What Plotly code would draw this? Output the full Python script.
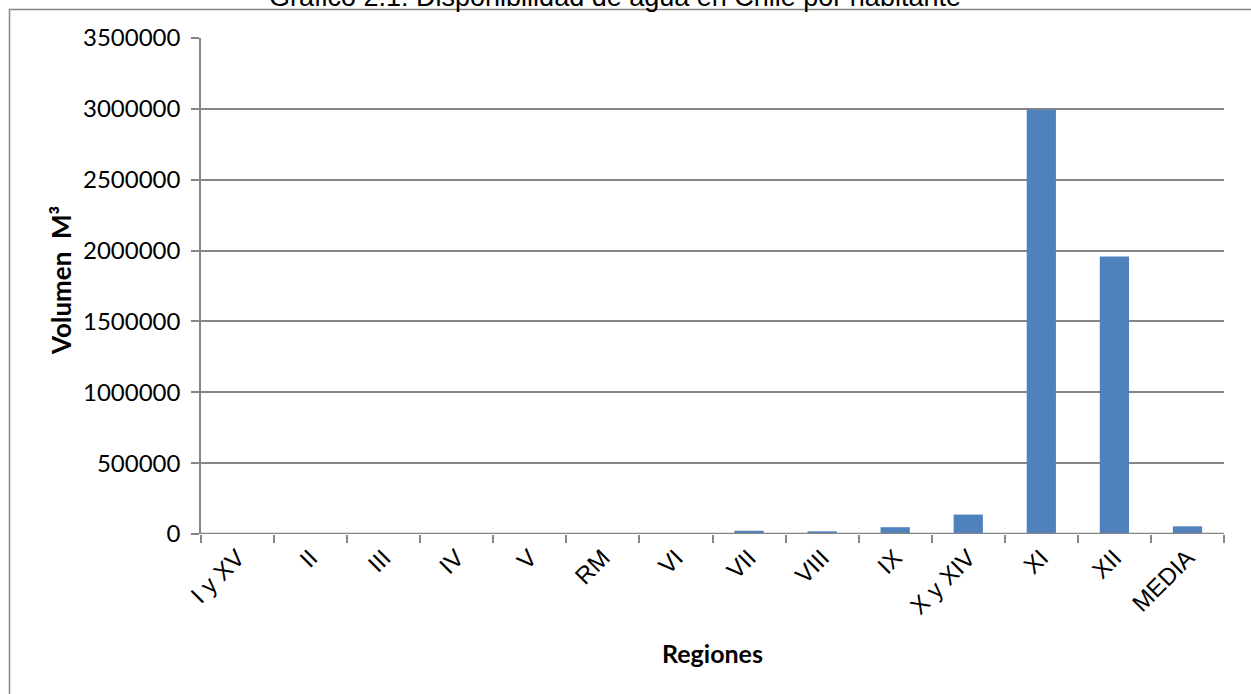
import plotly.graph_objects as go

# Disponibilidad de agua por habitante (m³) según región
regiones = ["I y XV", "II", "III", "IV", "V", "RM", "VI", "VII", "VIII",
            "IX", "X y XIV", "XI", "XII", "MEDIA"]
volumen = [850, 50, 210, 1020, 1000, 525, 6800, 23000, 19000,
           48000, 137000, 2993000, 1959000, 54000]

y_ticks = [0, 500000, 1000000, 1500000, 2000000, 2500000, 3000000, 3500000]

W, H = 1251, 694
L, R, T, B = 201, 27, 38, 160
pw, ph = W - L - R, H - T - B


def px_x(x):
    return (x - L) / pw


def px_y(y):
    return (H - B - y) / ph


grey = "#868686"

fig = go.Figure(
    go.Bar(
        x=regiones,
        y=volumen,
        width=0.4,
        marker=dict(color="#4F81BD", line=dict(width=0)),
    )
)

fig.update_layout(
    width=W,
    height=H,
    margin=dict(l=L, r=R, t=T, b=B, pad=0),
    paper_bgcolor="white",
    plot_bgcolor="white",
    showlegend=False,
    bargap=0.6,
)

fig.update_xaxes(
    type="category",
    tickangle=-45,
    tickfont=dict(family="Liberation Sans, Arial", size=24, color="black"),
    showline=False,
    ticks="outside",
    tickson="boundaries",
    ticklen=8,
    tickcolor=grey,
    tickwidth=1.5,
    showgrid=False,
    ticklabelstandoff=4,
)

fig.update_yaxes(
    range=[0, 3500000],
    tickvals=y_ticks,
    ticktext=[str(v) for v in y_ticks],
    tickfont=dict(family="Lato", size=24, color="black"),
    showline=True,
    linecolor=grey,
    linewidth=1.5,
    ticks="outside",
    ticklen=8,
    tickcolor=grey,
    tickwidth=1.5,
    showgrid=True,
    gridcolor=grey,
    gridwidth=1.5,
    zeroline=False,
    ticklabelstandoff=6,
)

# Línea base del eje de categorías, sobre las barras
fig.add_shape(
    type="line", xref="paper", yref="y",
    x0=px_x(200), x1=1, y0=0, y1=0,
    line=dict(color=grey, width=2.5), layer="above",
)

# Marco del gráfico
fig.add_shape(
    type="rect", xref="paper", yref="paper",
    x0=px_x(9.5), x1=px_x(1262), y0=px_y(9.5), y1=px_y(705),
    line=dict(color=grey, width=1.5), fillcolor="rgba(0,0,0,0)", layer="below",
)

annotations = [
    dict(text="Gráfico 2.1: Disponibilidad de agua en Chile por habitante",
         x=px_x(615), y=px_y(-3), xanchor="center", yanchor="middle",
         font=dict(family="Liberation Sans, Arial", size=27, color="black")),
    dict(text="<b>Regiones</b>",
         x=px_x(712), y=px_y(653), xanchor="center", yanchor="middle",
         font=dict(family="Lato", size=25, color="black")),
    dict(text="<b>Volumen  M³</b>",
         x=px_x(61), y=px_y(281), xanchor="center", yanchor="middle",
         textangle=-90,
         font=dict(family="Lato", size=26, color="black")),
]
for a in annotations:
    fig.add_annotation(xref="paper", yref="paper", showarrow=False, **a)

fig.write_html("out.html")
